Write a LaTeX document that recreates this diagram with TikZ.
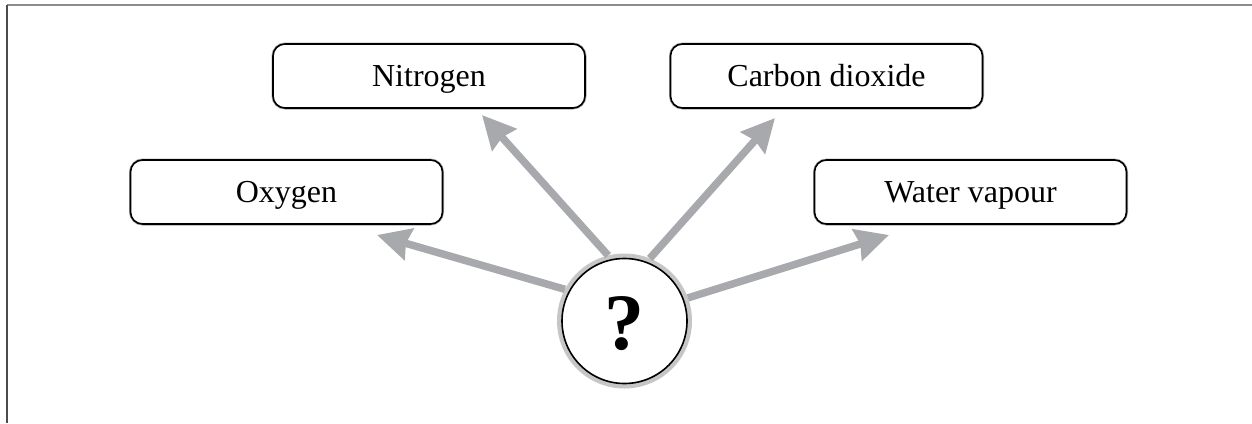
\documentclass[tikz,border=0pt]{standalone}
\usepackage{fontspec}
\setmainfont{Liberation Serif}
\usetikzlibrary{arrows.meta}
\definecolor{arrowgray}{HTML}{A7A9AC}
\definecolor{ringgray}{HTML}{C6C6C6}
\begin{document}
\begin{tikzpicture}[x=1pt,y=-1pt,
  gasbox/.style={draw=black, line width=1.6pt, rounded corners=12pt, fill=white,
    minimum width=312pt, minimum height=64pt, inner sep=0pt,
    text height=21pt, text depth=0pt,
    font=\fontsize{32}{38}\selectfont,
    preaction={draw=black!35, line width=3pt}},
  gasarrow/.style={draw=arrowgray, line width=7.5pt,
    -{Stealth[length=33pt,width=32pt,inset=3pt]}},
  framegray/.style={line width=2pt, draw=black!45},
  framedark/.style={line width=2pt, draw=black!70}
]
\useasboundingbox (0,0) rectangle (1252,423);
\coordinate (ftl) at (6.5,4.5);
\coordinate (ftr) at (1252,4.5);
\coordinate (fbl) at (6.5,423);
\draw[framegray] (ftl) -- (ftr);
\draw[framedark] (ftl) -- (fbl);

\node[gasbox] (oxy) at (286.5,192) {Oxygen};
\node[gasbox] (nit) at (429,76) {Nitrogen};
\node[gasbox] (co2) at (826.5,76) {Carbon dioxide};
\node[gasbox] (wat) at (970.5,192) {Water vapour};

\node[circle, draw=ringgray, line width=5pt, minimum size=130pt, fill=white, inner sep=0pt] (q) at (624.5,321) {};
\draw[line width=1.6pt] (q.center) circle (62.5pt);
\node[font=\bfseries\fontsize{80}{82}\selectfont, inner sep=0pt] (qm) at ([yshift=-3pt]q.center) {?};

\coordinate (tO) at (377,235);
\coordinate (tN) at (482,115);
\coordinate (tC) at (775,118);
\coordinate (tW) at (889,235);

\draw[gasarrow] (q.152.5) -- (tO);
\draw[gasarrow] (q.104) -- (tN);
\draw[gasarrow] (q.68) -- (tC);
\draw[gasarrow] (q.20.7) -- (tW);
\end{tikzpicture}
\end{document}
